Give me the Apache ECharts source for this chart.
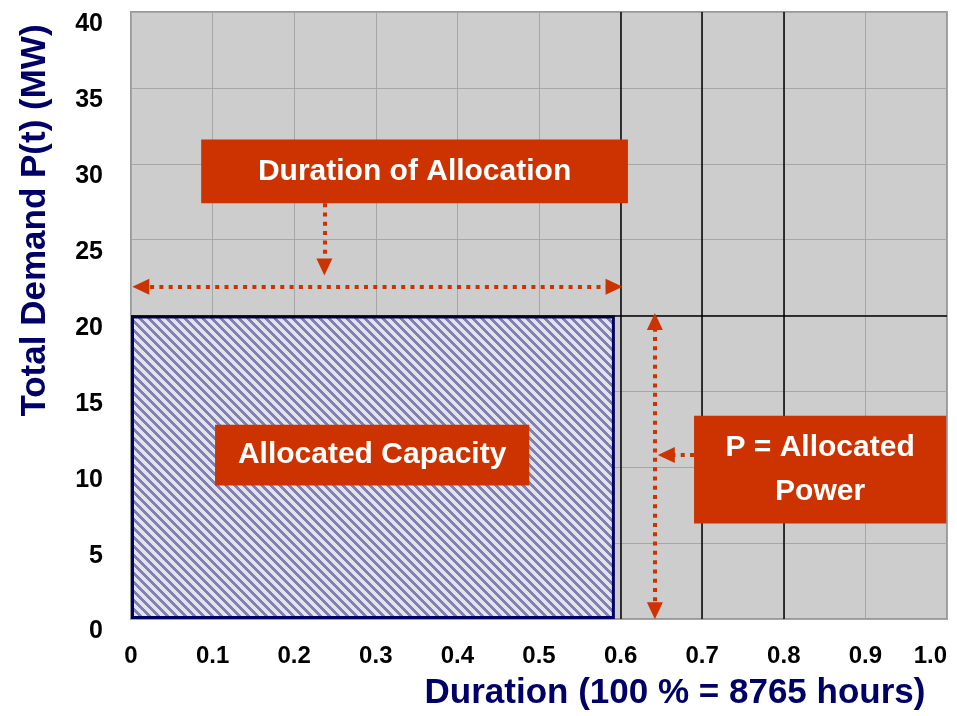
<!DOCTYPE html>
<html><head><meta charset="utf-8">
<script src="https://cdn.jsdelivr.net/npm/echarts@6/dist/echarts.min.js"></script>
<style>html,body{margin:0;padding:0;background:#fff}#c{width:957px;height:716px}</style>
</head><body><div id="c"></div>
<script>
// ---- data ----
const xTickLabels = ['0','0.1','0.2','0.3','0.4','0.5','0.6','0.7','0.8','0.9','1.0'];
const yTickLabels = ['0','5','10','15','20','25','30','35','40'];
const xTitle = 'Duration (100 % = 8765 hours)';
const yTitle = 'Total Demand P(t) (MW)';
// allocated capacity block: [x0, y0, x1, y1]
const capacityBlock = [[0, 0, 0.593, 20]];
// annotation boxes: [x0, y0, x1, y1]
const boxRects = [[0.086, 27.4, 0.609, 31.6], [0.103, 8.8, 0.488, 12.8], [0.69, 6.3, 0.999, 13.4]];
const boxTexts = ['Duration of Allocation', 'Allocated Capacity', 'P = Allocated\nPower'];
// dark reference lines
const majorX = [0.6, 0.7, 0.8];
const majorY = [20];
// arrows: [x0, y0, x1, y1, startHead, endHead]
const arrows = [
  [0.012, 21.9, 0.592, 21.9, true, true],
  [0.642, 0.55, 0.642, 19.6, true, true],
  [0.237, 27.4, 0.237, 23.2, false, true],
  [0.69, 10.8, 0.656, 10.8, false, true]
];

const FONT = "'Liberation Sans',Arial,sans-serif";
const NAVY = '#000066';
const ORANGE = '#cc3300';

// hatch pattern
const P = 9;
const pc = document.createElement('canvas');
pc.width = P; pc.height = P;
const pctx = pc.getContext('2d');
pctx.fillStyle = '#e2e2ea'; pctx.fillRect(0,0,P,P);
pctx.fillStyle = '#8080b2';
for (let y = 0; y < P; y++) for (let x = 0; x < P; x++) {
  const d = ((x - y) % P + P) % P;
  if (d <= 3) pctx.fillRect(x, y, 1, 1);
}

const chart = echarts.init(document.getElementById('c'), null, {renderer: 'canvas'});
chart.setOption({
  animation: false,
  grid: {left: 131, top: 12, right: 10, bottom: 97, containLabel: false, outerBoundsMode: 'none',
    show: true, backgroundColor: '#cdcdcd', borderColor: '#999', borderWidth: 2},
  xAxis: {
    type: 'value', min: 0, max: 1, interval: 0.1,
    axisLine: {show: false}, axisTick: {show: false},
    splitLine: {show: true, lineStyle: {color: '#a6a6a6', width: 1}},
    axisLabel: {margin: 25, fontFamily: FONT, fontWeight: 'bold', fontSize: 24, color: '#000', alignMaxLabel: 'right',
      formatter: (v) => xTickLabels[Math.round(v * 10)]},
    name: xTitle, nameLocation: 'middle', nameGap: 74,
    nameTextStyle: {fontFamily: FONT, fontWeight: 'bold', fontSize: 35, color: NAVY, verticalAlign: 'middle', padding: [0,0,0,272]}
  },
  yAxis: {
    type: 'value', min: 0, max: 40, interval: 5,
    axisLine: {show: false}, axisTick: {show: false},
    splitLine: {show: true, lineStyle: {color: '#a6a6a6', width: 1}},
    axisLabel: {margin: 28, fontFamily: FONT, fontWeight: 'bold', fontSize: 25, color: '#000', verticalAlign: 'top',
      formatter: (v) => yTickLabels[Math.round(v / 5)]},
    name: yTitle, nameLocation: 'middle', nameGap: 96, nameRotate: 90,
    nameTextStyle: {fontFamily: FONT, fontWeight: 'bold', fontSize: 35, color: NAVY, verticalAlign: 'middle', align: 'center', padding: [0,0,0,190]}
  },
  series: [
    {
      type: 'line', data: [], z: 1, silent: true,
      markLine: {
        silent: true, symbol: ['none','none'], label: {show: false},
        lineStyle: {color: '#000', width: 1.5, type: 'solid'},
        data: majorX.map(v => ({xAxis: v})).concat(majorY.map(v => ({yAxis: v})))
      }
    },
    {
      type: 'custom', z: 3, silent: true,
      data: capacityBlock,
      renderItem: (params, api) => {
        const p0 = api.coord([api.value(0), api.value(3)]);
        const p1 = api.coord([api.value(2), api.value(1)]);
        return {type: 'rect', shape: {x: p0[0] + 1.5, y: p0[1] + 1.5, width: p1[0] - p0[0] - 3, height: p1[1] - p0[1] - 3},
          style: {fill: {image: pc, repeat: 'repeat'}, stroke: NAVY, lineWidth: 3}};
      }
    },
    {
      type: 'custom', z: 5, silent: true,
      data: boxRects.map((r, i) => r.concat([i])),
      renderItem: (params, api) => {
        const p0 = api.coord([api.value(0), api.value(3)]);
        const p1 = api.coord([api.value(2), api.value(1)]);
        return {type: 'rect', shape: {x: p0[0], y: p0[1], width: p1[0] - p0[0], height: p1[1] - p0[1]},
          style: {fill: ORANGE},
          textContent: {style: {text: boxTexts[api.value(4)], fill: '#fff', fontFamily: FONT, fontWeight: 'bold', fontSize: 30, lineHeight: 44, align: 'center'}},
          textConfig: {position: 'inside'}};
      }
    },
    {
      type: 'line', data: [], z: 6, silent: true,
      markLine: {
        silent: true, label: {show: false},
        symbolSize: [16, 17],
        lineStyle: {color: ORANGE, width: 4, type: [4, 5.3], opacity: 1},
        data: arrows.map(a => [
          {coord: [a[0], a[1]], symbol: a[4] ? 'triangle' : 'none'},
          {coord: [a[2], a[3]], symbol: a[5] ? 'triangle' : 'none'}
        ])
      }
    }
  ]
});
</script></body></html>
